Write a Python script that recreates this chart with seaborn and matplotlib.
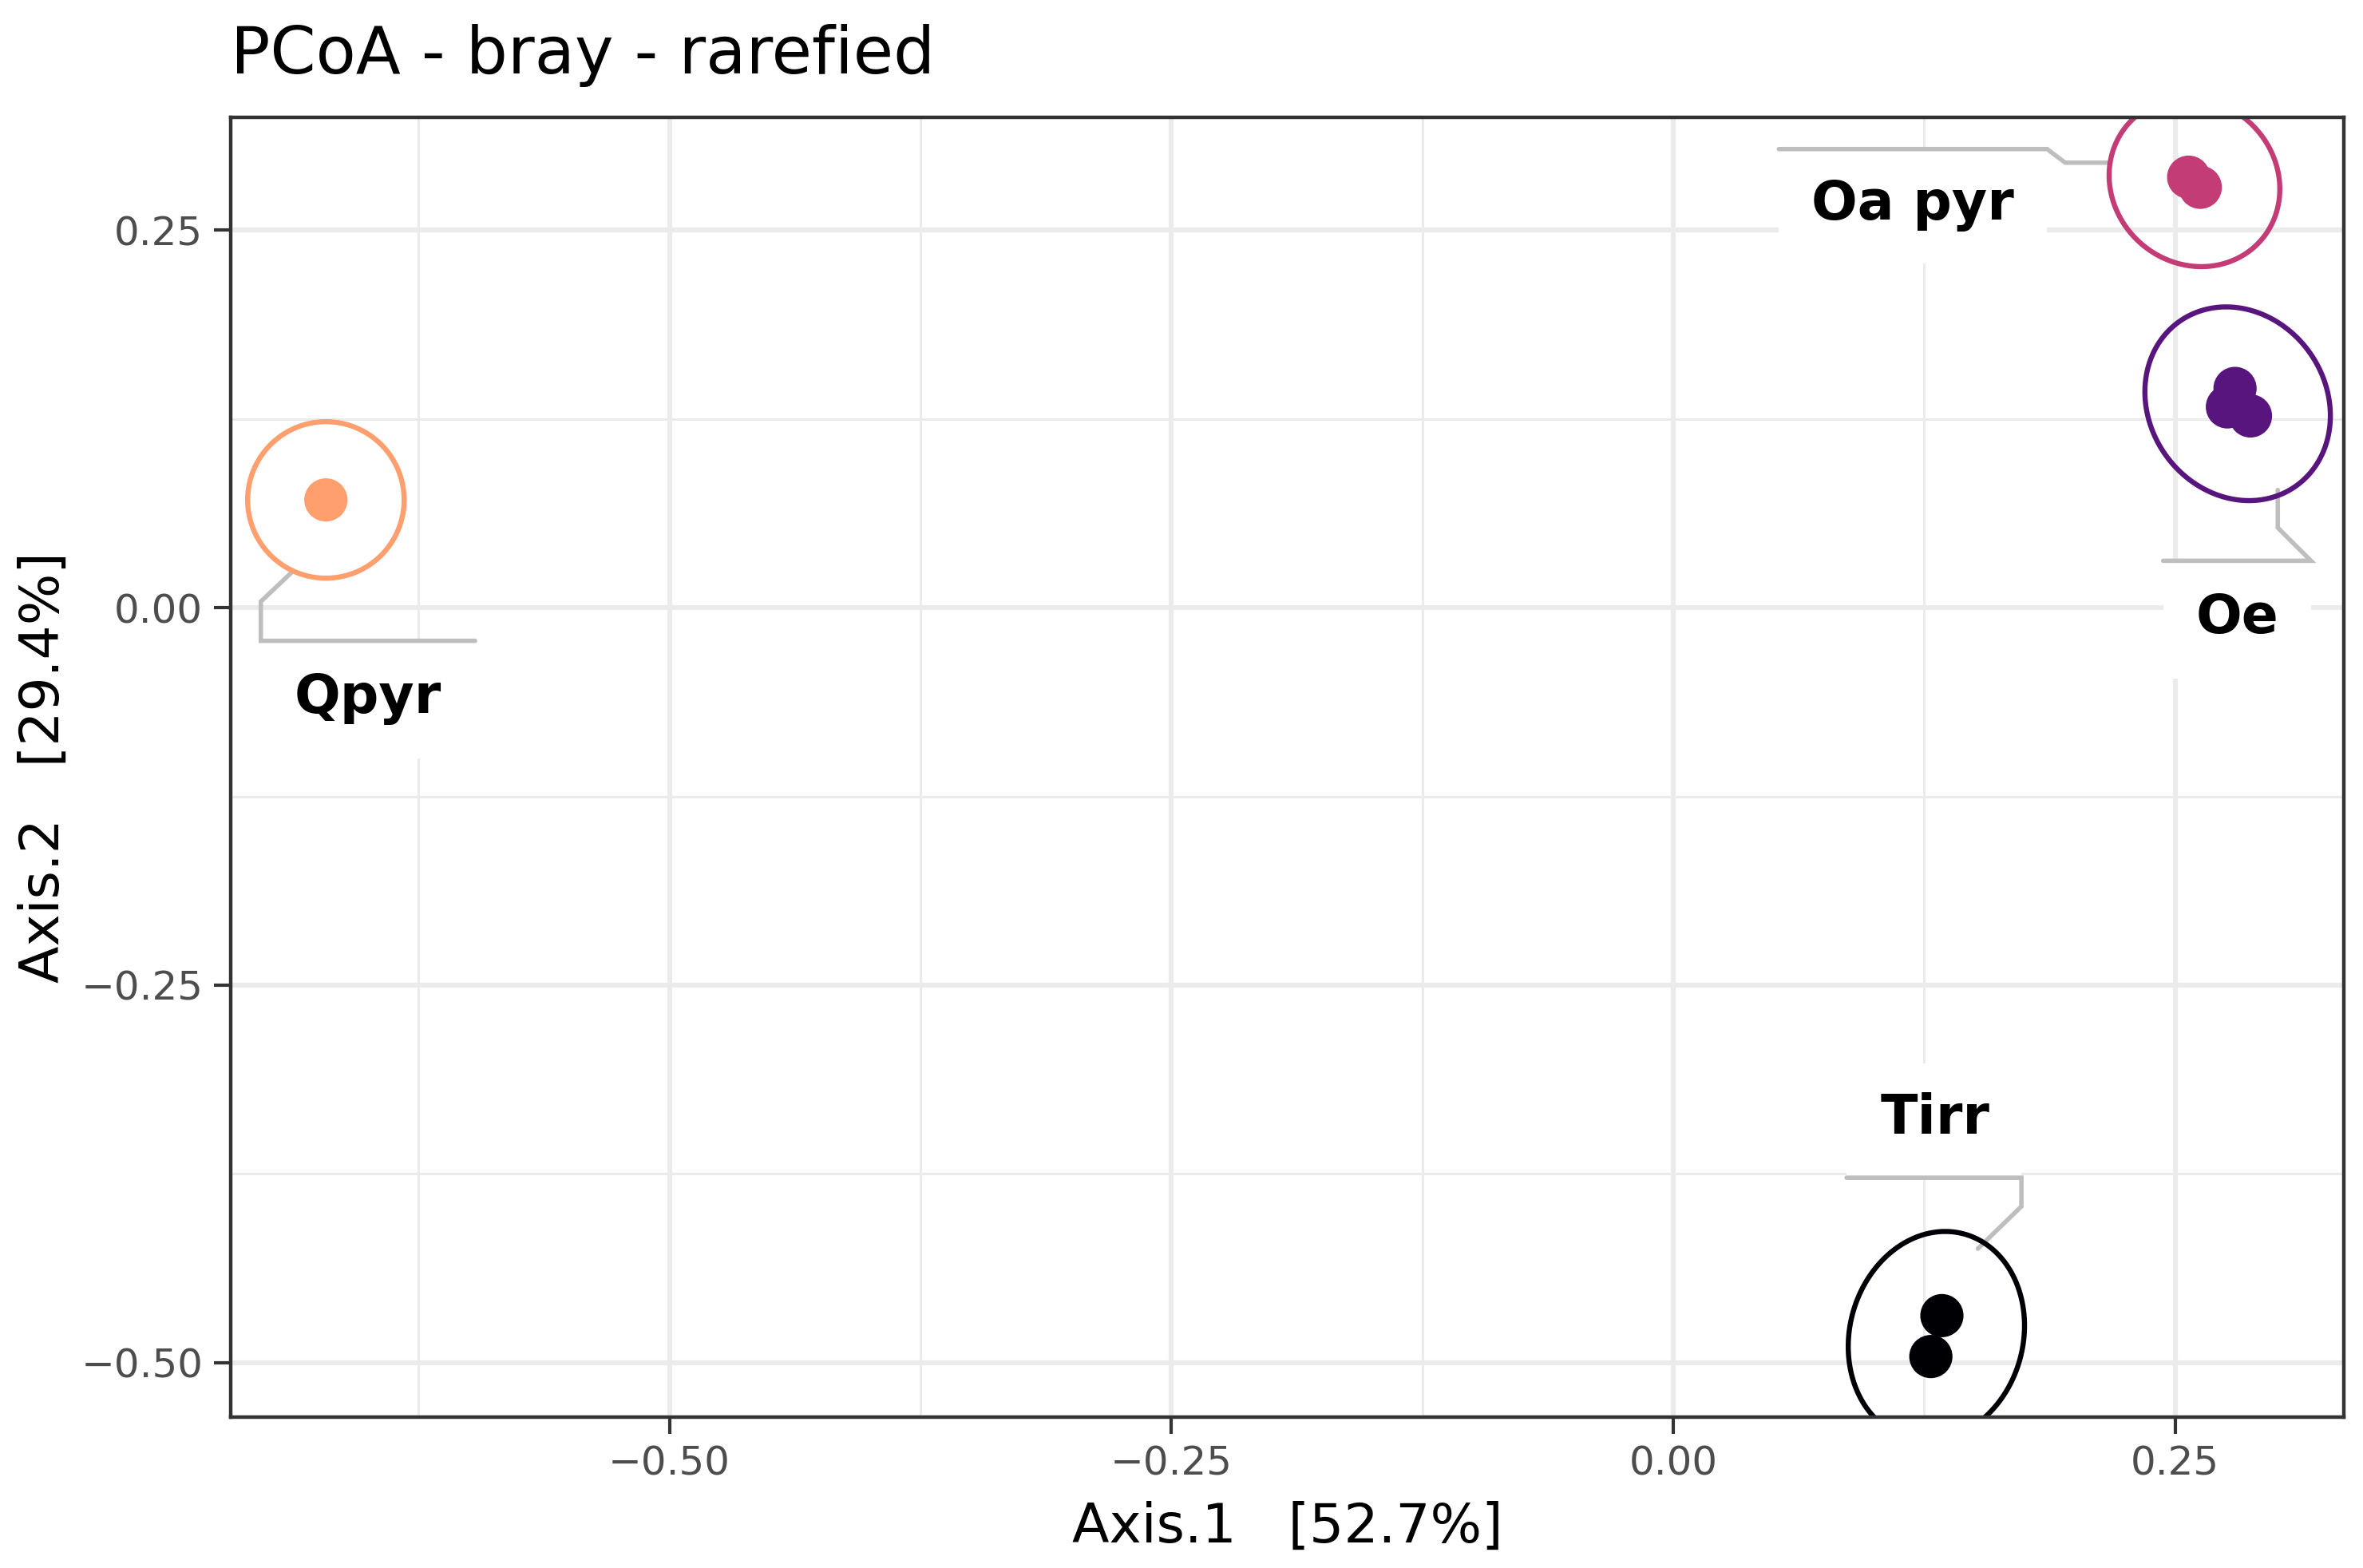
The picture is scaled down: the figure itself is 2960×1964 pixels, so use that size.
import numpy as np
import pandas as pd
import matplotlib
matplotlib.use("Agg")
import matplotlib.pyplot as plt
import seaborn as sns
from matplotlib.patches import Polygon, Rectangle
from matplotlib.ticker import FixedLocator, MultipleLocator

# sample scores
groups = ["Tirr", "Tirr", "Oe", "Oe", "Oe", "Oa pyr", "Oa pyr", "Qpyr"]
axis1 = [0.1338, 0.1283, 0.2798, 0.2760, 0.2875, 0.2567, 0.2625, -0.6711]
axis2 = [-0.4688, -0.4959, 0.1451, 0.1329, 0.1269, 0.2850, 0.2783, 0.0713]

group_order = ["Tirr", "Oe", "Oa pyr", "Qpyr"]
group_colors = ["#000004", "#59157E", "#C43C75", "#FE9F6D"]
x_ticks = [-0.50, -0.25, 0.00, 0.25]
y_ticks = [-0.50, -0.25, 0.00, 0.25]
title = "PCoA - bray - rarefied"
x_title = "Axis.1   [52.7%]"
y_title = "Axis.2   [29.4%]"

df = pd.DataFrame({"Axis.1": axis1, "Axis.2": axis2, "group": groups})
palette = dict(zip(group_order, group_colors))

# label placement (connector path, white box, text baseline) in data units
label_layout = {
    "Qpyr": {"path": [(-0.6884, 0.0230), (-0.7035, 0.0040), (-0.7035, -0.0220), (-0.5968, -0.0220)],
             "box": (-0.7035, -0.5968, -0.0999, -0.0220), "text": (-0.6502, -0.0699)},
    "Oa pyr": {"path": [(0.2162, 0.2946), (0.1952, 0.2946), (0.1862, 0.3036), (0.0526, 0.3036)],
               "box": (0.0526, 0.1862, 0.2277, 0.3036), "text": (0.1194, 0.2567)},
    "Oe": {"path": [(0.3011, 0.0779), (0.3011, 0.0529), (0.3176, 0.0310), (0.2440, 0.0310)],
           "box": (0.2440, 0.3176, -0.0469, 0.0310), "text": (0.2808, -0.0170)},
    "Tirr": {"path": [(0.1517, -0.4245), (0.1734, -0.3965), (0.1734, -0.3775), (0.0863, -0.3775)],
             "box": (0.0863, 0.1734, -0.3775, -0.3016), "text": (0.1306, -0.3485)},
}

sns.set_theme(style="white")
plt.rcParams["font.family"] = ["DejaVu Sans"]

fig = plt.figure(figsize=(14.8, 9.82), dpi=200)
ax = fig.add_axes([289 / 2960, 1 - 1775 / 1964, (2936 - 289) / 2960, (1775 - 147) / 1964])
ax.set_xlim(-0.7185, 0.334)
ax.set_ylim(-0.536, 0.3246)

ax.xaxis.set_major_locator(FixedLocator(x_ticks))
ax.yaxis.set_major_locator(FixedLocator(y_ticks))
ax.xaxis.set_minor_locator(MultipleLocator(0.125))
ax.yaxis.set_minor_locator(MultipleLocator(0.125))
ax.set_axisbelow(True)
ax.grid(which="major", color="#EBEBEB", lw=2.2)
ax.grid(which="minor", color="#EBEBEB", lw=1.1)
for s in ax.spines.values():
    s.set_color("#333333")
    s.set_linewidth(1.6)
ax.tick_params(which="major", length=7.5, width=1.5, color="#333333",
               labelsize=18, labelcolor="#4D4D4D", pad=5, bottom=True, left=True)
ax.tick_params(which="minor", length=0)


def mark_ellipse(px, r_px, n=300):
    c = px.mean(axis=0)
    d = px - c
    if len(px) > 1:
        vals, vecs = np.linalg.eigh(np.cov(d.T))
        u = vecs[:, -1]
    else:
        u = np.array([1.0, 0.0])
    v = np.array([-u[1], u[0]])
    sa = np.abs(d @ u).max()
    sb = np.abs(d @ v).max()
    a = r_px + 1.3 * sa
    b = r_px + max(sb, 0.4 * sa)
    t = np.linspace(0, 2 * np.pi, n)
    pts = c + np.outer(a * np.cos(t), u) + np.outer(b * np.sin(t), v)
    return ax.transData.inverted().transform(pts)


for g in group_order:
    sub = df[df["group"] == g]
    px = ax.transData.transform(sub[["Axis.1", "Axis.2"]].values)
    ell = mark_ellipse(px, 98)
    ax.add_patch(Polygon(ell, closed=True, fill=False, edgecolor=palette[g], lw=2.3, zorder=2))

    lay = label_layout[g]
    x0, x1, y0, y1 = lay["box"]
    ax.add_patch(Rectangle((x0, y0), x1 - x0, y1 - y0, facecolor="white", edgecolor="none", zorder=1.2))
    p = np.array(lay["path"])
    ax.plot(p[:, 0], p[:, 1], color="#BEBEBE", lw=2.0, zorder=1.3, solid_joinstyle="miter")
    ax.text(lay["text"][0], lay["text"][1], g, ha="center", va="baseline",
            fontsize=24.5, fontweight="bold", color="black", zorder=4)

sns.scatterplot(data=df, x="Axis.1", y="Axis.2", hue="group", palette=palette,
                hue_order=group_order, s=380, linewidth=0, legend=False, ax=ax, zorder=3)

ax.set_xlabel(x_title, fontsize=24.5, color="black", labelpad=8)
ax.set_ylabel(y_title, fontsize=24.5, color="black", labelpad=5)
fig.text(289 / 2960, 1 - 92 / 1964, title, fontsize=29.5, ha="left", va="baseline", color="black")

fig.savefig("out.png", dpi=200, facecolor="white")
